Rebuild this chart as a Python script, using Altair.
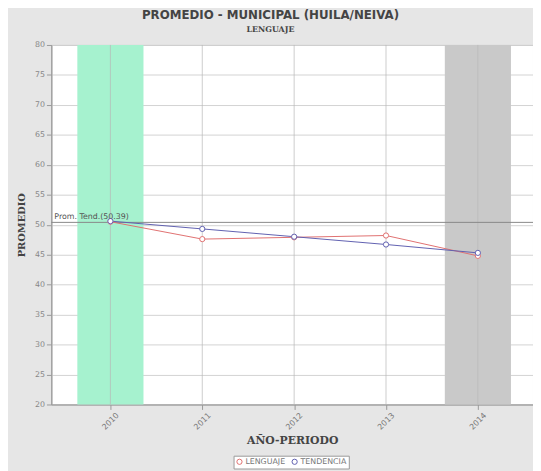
import altair as alt
import pandas as pd

years = [2010, 2011, 2012, 2013, 2014]
lenguaje = [50.5, 47.6, 47.9, 48.2, 44.8]
tendencia = [50.6, 49.3, 48.0, 46.7, 45.3]
series_names = ["LENGUAJE", "TENDENCIA"]
series_colors = ["#e07070", "#6060b0"]
prom_value = 50.39
prom_label = "Prom. Tend.(50.39)"
band_years = [2010, 2014]
band_colors = ["#a6f2cf", "#c9c9c9"]

rows = []
for y, a, b in zip(years, lenguaje, tendencia):
    rows.append({"year": y, "value": a, "serie": "LENGUAJE"})
    rows.append({"year": y, "value": b, "serie": "TENDENCIA"})
df = pd.DataFrame(rows)

bands = pd.DataFrame({
    "x0": [y - 0.36 for y in band_years],
    "x1": [y + 0.36 for y in band_years],
    "c": band_colors,
})

W, H = 489, 365
xscale = alt.Scale(domain=[2009.357, 2014.6], nice=False, zero=False)
yscale = alt.Scale(domain=[20, 80], nice=False, zero=False)

xaxis = alt.Axis(
    values=years, format="d", labelAngle=-45, labelAlign="center",
    labelBaseline="middle", labelPadding=12, grid=False,
    title="AÑO-PERIODO", titleFontSize=11, titleFontWeight="bold",
    titleColor="#444444", titlePadding=4, labelColor="#777777",
    labelFontSize=8, tickColor="#999999", domainColor="#999999",
    labelFont="DejaVu Sans", titleFont="DejaVu Serif",
)
yaxis = alt.Axis(
    values=list(range(20, 81, 5)), grid=True, gridColor="#d2d2d2",
    labelOverlap=False,
    title="PROMEDIO", titleFontSize=10, titleFontWeight="bold",
    titleColor="#444444", titlePadding=8, labelColor="#888888",
    labelFontSize=8, tickColor="#999999", domainColor="#999999",
    labelFont="DejaVu Sans", titleFont="DejaVu Serif",
)

band_layer = alt.Chart(bands).mark_rect(opacity=1).encode(
    x=alt.X("x0:Q", scale=xscale, axis=xaxis, title="AÑO-PERIODO"),
    x2="x1:Q",
    y=alt.datum(80, scale=yscale, axis=yaxis, title="PROMEDIO"),
    y2=alt.datum(20),
    fill=alt.Fill("c:N", scale=None, legend=None),
)

vgrid = alt.Chart(pd.DataFrame({"year": years})).mark_rule(
    color="#b8b8b8", strokeWidth=1, opacity=0.7
).encode(x=alt.X("year:Q", scale=xscale, axis=xaxis, title="AÑO-PERIODO"))

prom = alt.Chart(pd.DataFrame({"v": [prom_value]})).mark_rule(
    color="#888888", strokeWidth=1
).encode(y=alt.Y("v:Q", scale=yscale, axis=yaxis, title="PROMEDIO"))

prom_text = alt.Chart(pd.DataFrame({"v": [prom_value], "t": [prom_label]})).mark_text(
    align="left", baseline="bottom", dx=3, dy=-1, fontSize=8, color="#555555",
    font="DejaVu Sans"
).encode(y=alt.Y("v:Q", scale=yscale, axis=yaxis, title="PROMEDIO"),
         x=alt.value(0), text="t:N")

lines = alt.Chart(df).mark_line(
    strokeWidth=1,
    point=alt.OverlayMarkDef(filled=False, fill="white", size=28, strokeWidth=1),
).encode(
    x=alt.X("year:Q", scale=xscale, axis=xaxis, title="AÑO-PERIODO"),
    y=alt.Y("value:Q", scale=yscale, axis=yaxis, title="PROMEDIO"),
    color=alt.Color(
        "serie:N",
        scale=alt.Scale(domain=series_names, range=series_colors),
        legend=alt.Legend(
            title=None, orient="none", direction="horizontal",
            legendX=185, legendY=417, symbolType="circle", symbolSize=28,
            symbolFillColor="white", symbolStrokeWidth=1, labelFontSize=8,
            labelColor="#777777", strokeColor="#999999", padding=2,
            columnPadding=4, labelOffset=2, fillColor="#ffffff",
            labelFont="DejaVu Sans",
        ),
    ),
)

chart = alt.layer(band_layer, vgrid, prom, lines, prom_text).properties(
    width=W, height=H,
    title=alt.TitleParams(
        text="PROMEDIO - MUNICIPAL (HUILA/NEIVA)",
        subtitle="LENGUAJE",
        fontSize=12, fontWeight="bold", color="#444444",
        subtitleFontSize=8, subtitleFontWeight="bold", subtitleColor="#444444",
        anchor="middle", dx=-22, offset=6, subtitlePadding=4,
        font="DejaVu Sans", subtitleFont="DejaVu Serif",
    ),
    autosize=alt.AutoSizeParams(type="none"),
    padding={"left": 44, "top": 34, "right": 0, "bottom": 64},
    background="#e6e6e6",
).configure_view(stroke="#999999", fill="white")

chart.save("out.html", embed_options={"renderer": "svg", "actions": False})
